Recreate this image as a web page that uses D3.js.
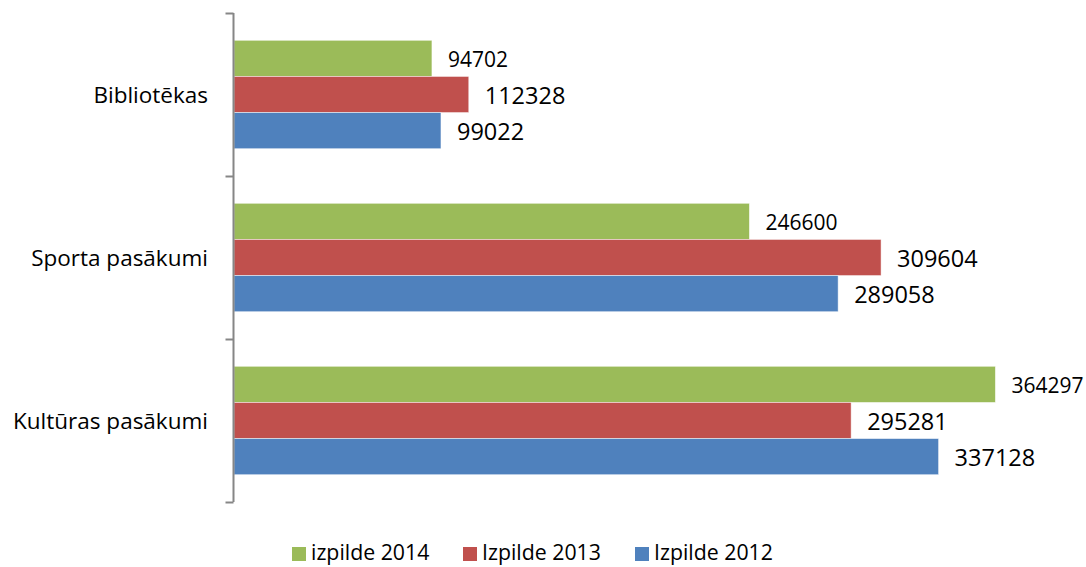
<!DOCTYPE html>
<html>
<head>
<meta charset="utf-8">
<script src="https://cdn.jsdelivr.net/npm/d3@7"></script>
<style>
body{margin:0;background:#fff;}
text{font-family:"Open Sans",sans-serif;fill:#000;}
</style>
</head>
<body>
<svg id="chart"></svg>
<script>
var w=1086;
var h=567;
var categories=["Bibliotēkas","Sporta pasākumi","Kultūras pasākumi"];
var seriesNames=["izpilde 2014","Izpilde 2013","Izpilde 2012"];
var colors=["#9BBB59","#C0504D","#4F81BD"];
var v2014=[94702,246600,364297];
var v2013=[112328,309604,295281];
var v2012=[99022,289058,337128];
var series=[v2014,v2013,v2012];
var labelSize=[21,23.5,23.5];

var margin={left:234,top:13,bottom:502};

var svg=d3.select("#chart")
          .attr("width",w)
          .attr("height",h);

var xScale=d3.scaleLinear()
             .domain([0,400000])
             .range([margin.left,margin.left+836]);
var yScale=d3.scaleBand()
             .domain(categories)
             .range([margin.top,margin.bottom])
             .paddingInner(0.335)
             .paddingOuter(0.1675);
var inner=d3.scaleBand()
            .domain(d3.range(series.length))
            .range([0,yScale.bandwidth()]);

// bars
series.forEach(function(vals,s){
  var g=svg.append("g");
  g.selectAll("rect")
   .data(vals)
   .enter()
   .append("rect")
   .attr("x",xScale(0))
   .attr("y",function(d,i){return yScale(categories[i])+inner(s);})
   .attr("width",function(d){return xScale(d)-xScale(0);})
   .attr("height",inner.bandwidth())
   .attr("fill",colors[s])
   .attr("stroke","rgba(255,255,255,0.6)")
   .attr("stroke-width",0.8);
  g.selectAll("text")
   .data(vals)
   .enter()
   .append("text")
   .attr("x",function(d){return xScale(d)+16;})
   .attr("y",function(d,i){return yScale(categories[i])+inner(s)+inner.bandwidth()/2+labelSize[s]*0.36+1;})
   .style("font-size",labelSize[s]+"px")
   .text(function(d){return d;});
});

// category axis
var yAxis=d3.axisLeft(d3.scaleLinear().domain([0,3]).range([margin.top,margin.bottom]))
            .tickValues([0,1,2,3])
            .tickSize(8)
            .tickFormat("");
var ax=svg.append("g")
          .attr("transform","translate("+(margin.left-0.5)+",0)")
          .call(yAxis);
ax.select(".domain").attr("stroke","#868686").attr("stroke-width",2).attr("d","M0,"+margin.top+"V"+margin.bottom);
ax.selectAll(".tick line").attr("stroke","#868686").attr("stroke-width",2);

svg.append("g")
   .selectAll("text")
   .data(categories)
   .enter()
   .append("text")
   .attr("x",208)
   .attr("y",function(d){return yScale(d)+yScale.bandwidth()/2+8;})
   .attr("text-anchor","end")
   .style("font-size","22.5px")
   .text(function(d){return d;});

// legend
var legendX=[292,463,635];
var lg=svg.append("g");
lg.selectAll("rect")
  .data(seriesNames)
  .enter()
  .append("rect")
  .attr("x",function(d,i){return legendX[i];})
  .attr("y",547)
  .attr("width",14)
  .attr("height",14)
  .attr("fill",function(d,i){return colors[i];});
lg.selectAll("text")
  .data(seriesNames)
  .enter()
  .append("text")
  .attr("x",function(d,i){return legendX[i]+19;})
  .attr("y",560)
  .style("font-size","21.3px")
  .text(function(d){return d;});
</script>
</body>
</html>
